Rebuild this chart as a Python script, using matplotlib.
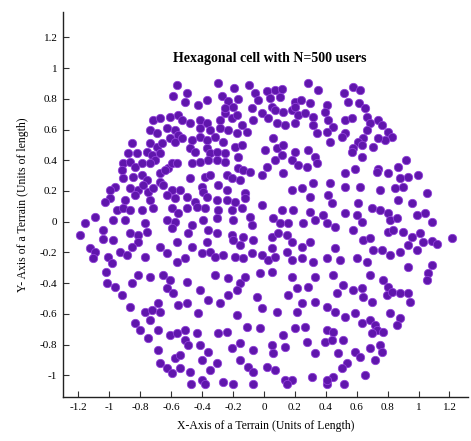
import matplotlib
matplotlib.use("Agg")
import matplotlib.pyplot as plt
from matplotlib.ticker import FuncFormatter

# user positions, (x, y) in units of length
users = [
    # top-left edge
    (-0.561, 0.890), (-0.496, 0.840), (-0.591, 0.819), (-0.511, 0.782),
    (-0.716, 0.663), (-0.673, 0.674), (-0.608, 0.685), (-0.554, 0.695), (-0.532, 0.663),
    (-0.479, 0.641), (-0.414, 0.663), (-0.371, 0.641), (-0.285, 0.663), (-0.252, 0.706),
    (-0.209, 0.674), (-0.177, 0.695), (-0.144, 0.630), (-0.069, 0.663),
    (-0.737, 0.598), (-0.694, 0.576), (-0.629, 0.609), (-0.576, 0.598), (-0.554, 0.565),
    (-0.414, 0.609), (-0.349, 0.598), (-0.285, 0.609), (-0.231, 0.598), (-0.177, 0.576),
    (-0.112, 0.587),
    (-0.856, 0.511), (-0.737, 0.511), (-0.694, 0.489), (-0.662, 0.511), (-0.608, 0.543),
    (-0.576, 0.522), (-0.532, 0.543), (-0.468, 0.533), (-0.414, 0.554), (-0.371, 0.533),
    (-0.317, 0.554), (-0.263, 0.522), (-0.188, 0.489), (-0.144, 0.500),
    (-0.877, 0.446), (-0.824, 0.446), (-0.759, 0.457), (-0.726, 0.435), (-0.705, 0.402),
    (-0.673, 0.446), (-0.479, 0.478), (-0.446, 0.457), (-0.371, 0.478), (-0.349, 0.446),
    (-0.306, 0.457), (-0.252, 0.446), (-0.166, 0.424),
    (-0.910, 0.380), (-0.867, 0.391), (-0.834, 0.359), (-0.791, 0.380), (-0.737, 0.380),
    (-0.619, 0.348), (-0.597, 0.380), (-0.565, 0.380), (-0.468, 0.380), (-0.414, 0.391),
    (-0.360, 0.402), (-0.306, 0.402), (-0.252, 0.391), (-0.166, 0.348), (-0.134, 0.337),
    (-0.091, 0.326),
    (-0.921, 0.337), (-0.910, 0.283), (-0.845, 0.294), (-0.791, 0.304), (-0.759, 0.272),
    (-0.673, 0.315), (-0.640, 0.337), (-0.479, 0.283), (-0.382, 0.294), (-0.349, 0.304),
    (-0.241, 0.304), (-0.209, 0.283), (-0.155, 0.272),
    (-0.964, 0.228), (-0.867, 0.218), (-0.813, 0.207), (-0.780, 0.239), (-0.748, 0.196),
    (-0.716, 0.218), (-0.673, 0.261), (-0.651, 0.239), (-0.597, 0.207), (-0.543, 0.207),
    (-0.403, 0.228), (-0.392, 0.196), (-0.295, 0.239), (-0.241, 0.207), (-0.123, 0.185),
    (-0.996, 0.152), (-0.899, 0.142), (-0.834, 0.174), (-0.737, 0.142), (-0.629, 0.174),
    (-0.576, 0.152), (-0.500, 0.163), (-0.446, 0.131), (-0.371, 0.163), (-0.306, 0.142),
    (-0.241, 0.142), (-0.188, 0.131), (-0.123, 0.152),
    (-0.953, 0.076), (-0.910, 0.087), (-0.867, 0.076), (-0.791, 0.076), (-0.716, 0.087),
    (-0.597, 0.087), (-0.554, 0.055), (-0.500, 0.087), (-0.435, 0.098), (-0.382, 0.087),
    (-0.295, 0.076), (-0.209, 0.076), (-0.144, 0.087), (-0.091, 0.033),
    (-0.974, 0.011), (-0.899, 0.011), (-0.770, -0.010), (-0.629, 0.011), (-0.576, 0.000),
    (-0.468, -0.021), (-0.392, 0.011), (-0.306, 0.022), (-0.198, 0.011), (-0.080, -0.021),
    (-0.867, -0.076), (-0.813, -0.087), (-0.759, -0.065), (-0.597, -0.043), (-0.489, -0.076),
    (-0.360, -0.054), (-0.306, -0.076), (-0.209, -0.087), (-0.134, -0.097),
    # upper-middle band
    (-0.299, 0.901), (-0.192, 0.869), (-0.097, 0.890), (0.018, 0.853), (0.071, 0.858),
    (0.119, 0.862), (0.287, 0.901), (0.352, 0.858), (-0.371, 0.793), (-0.274, 0.819),
    (-0.230, 0.788), (-0.166, 0.797), (-0.058, 0.836), (-0.036, 0.793), (0.039, 0.803),
    (0.104, 0.814), (0.201, 0.782), (0.240, 0.793), (0.298, 0.771), (-0.424, 0.760),
    (-0.252, 0.738), (-0.198, 0.749), (-0.079, 0.738), (-0.015, 0.710), (0.050, 0.749),
    (0.071, 0.727), (0.125, 0.717), (0.179, 0.727), (0.201, 0.749), (0.222, 0.695),
    (0.265, 0.706), (0.319, 0.684), (0.028, 0.673), (0.082, 0.640), (0.136, 0.630),
    (0.201, 0.640), (0.319, 0.630), (0.341, 0.575), (0.007, 0.467), (0.061, 0.543),
    (0.082, 0.478), (0.125, 0.499), (0.201, 0.456), (0.287, 0.467), (0.330, 0.423),
    (0.018, 0.358), (0.071, 0.402), (0.115, 0.434), (0.179, 0.402), (0.222, 0.369),
    (0.276, 0.358), (0.341, 0.380),
    # upper-right band
    (0.517, 0.840), (0.578, 0.879), (0.621, 0.858), (0.545, 0.782), (0.616, 0.771),
    (0.405, 0.760), (0.653, 0.738), (0.394, 0.717), (0.416, 0.662), (0.524, 0.662),
    (0.567, 0.673), (0.664, 0.684), (0.685, 0.640), (0.739, 0.662), (0.761, 0.630),
    (0.804, 0.586), (0.826, 0.554), (0.782, 0.532), (0.739, 0.543), (0.664, 0.597),
    (0.642, 0.543), (0.610, 0.521), (0.632, 0.499), (0.707, 0.488), (0.578, 0.478),
    (0.567, 0.456), (0.632, 0.419), (0.448, 0.619), (0.405, 0.586), (0.524, 0.575),
    (0.502, 0.554), (0.427, 0.521), (0.920, 0.402), (0.869, 0.358), (0.739, 0.341),
    (0.588, 0.341),
    # middle-left edge
    (-0.996, 0.207), (-1.029, 0.131), (-1.093, 0.033), (-1.158, -0.011), (-1.190, -0.087),
    (-1.039, -0.054), (-0.975, -0.119), (-0.813, -0.130), (-0.856, -0.163), (-1.126, -0.173),
    (-1.093, -0.195), (-1.104, -0.239), (-1.007, -0.228), (-0.985, -0.271), (-0.932, -0.195),
    (-0.888, -0.217), (-0.770, -0.228), (-0.673, -0.163), (-0.565, -0.130), (-0.468, -0.163),
    (-0.565, -0.260), (-0.511, -0.239), (-0.630, -0.206), (-1.040, -0.110), (-1.020, -0.330),
    # centre band
    (-0.015, 0.304), (0.125, 0.315), (0.179, 0.207), (0.244, 0.218), (0.319, 0.250),
    (0.298, 0.163), (-0.015, 0.109), (0.061, 0.022), (0.115, 0.076), (0.190, 0.076),
    (0.104, -0.011), (0.158, -0.011), (0.255, -0.011), (0.298, 0.065), (0.330, 0.011),
    (-0.371, -0.130), (-0.198, -0.119), (-0.155, -0.152), (-0.069, -0.119), (0.050, -0.097),
    (0.093, -0.076), (0.147, -0.087), (0.179, -0.130), (0.050, -0.173), (0.244, -0.163),
    (0.298, -0.130), (-0.403, -0.206), (-0.349, -0.195), (-0.317, -0.228), (-0.263, -0.217),
    (-0.187, -0.228), (-0.133, -0.239), (-0.079, -0.206), (-0.015, -0.217), (0.028, -0.249),
    (0.071, -0.228), (0.147, -0.195), (0.179, -0.249), (0.244, -0.239), (0.319, -0.260),
    # middle-right band
    (0.524, 0.315), (0.729, 0.326), (0.804, 0.315), (0.879, 0.283), (0.933, 0.294),
    (0.998, 0.304), (0.427, 0.250), (0.524, 0.228), (0.621, 0.228), (0.750, 0.207),
    (0.847, 0.218), (0.901, 0.228), (1.052, 0.185), (0.416, 0.174), (0.437, 0.120),
    (0.610, 0.120), (0.696, 0.087), (0.750, 0.076), (0.869, 0.141), (0.955, 0.120),
    (1.041, 0.055), (0.384, 0.044), (0.524, 0.055), (0.599, 0.044), (0.632, 0.000),
    (0.804, 0.055), (0.815, 0.011), (0.858, 0.022), (0.987, 0.044), (1.084, 0.000),
    (0.405, -0.011), (0.459, -0.032), (0.578, -0.054), (0.804, -0.065), (0.836, -0.054),
    (0.901, -0.065), (0.955, -0.097), (1.009, -0.076), (1.030, -0.130), (1.084, -0.124),
    (1.117, -0.145), (1.214, -0.108), (0.459, -0.173), (0.642, -0.119), (0.685, -0.108),
    (0.707, -0.184), (0.761, -0.184), (0.815, -0.217), (0.879, -0.195), (0.933, -0.152),
    (0.987, -0.184), (0.405, -0.239), (0.491, -0.249), (0.599, -0.239), (0.664, -0.260),
    (0.933, -0.293), (1.084, -0.282),
    # lower-left band
    (-1.018, -0.402), (-0.964, -0.424), (-0.921, -0.478), (-0.856, -0.402), (-0.813, -0.348),
    (-0.738, -0.358), (-0.651, -0.348), (-0.608, -0.380), (-0.630, -0.434), (-0.587, -0.467),
    (-0.500, -0.391), (-0.867, -0.554), (-0.770, -0.586), (-0.727, -0.576), (-0.684, -0.532),
    (-0.673, -0.586), (-0.554, -0.543), (-0.500, -0.532), (-0.835, -0.663), (-0.802, -0.706),
    (-0.738, -0.641), (-0.684, -0.706), (-0.748, -0.760), (-0.608, -0.739), (-0.565, -0.728),
    (-0.511, -0.706), (-0.511, -0.771), (-0.490, -0.804), (-0.684, -0.836), (-0.576, -0.891),
    (-0.544, -0.869), (-0.673, -0.923), (-0.630, -0.956), (-0.597, -0.988), (-0.544, -0.956),
    (-0.479, -0.977),
    # lower-middle band
    (-0.317, -0.348), (-0.230, -0.369), (-0.155, -0.402), (-0.123, -0.358), (-0.026, -0.337),
    (0.050, -0.326), (0.179, -0.358), (0.212, -0.434), (0.287, -0.424), (0.330, -0.358),
    (-0.414, -0.445), (-0.360, -0.510), (-0.284, -0.532), (-0.230, -0.478), (-0.176, -0.445),
    (-0.047, -0.489), (-0.015, -0.565), (0.082, -0.586), (0.158, -0.478), (0.212, -0.586),
    (0.244, -0.532), (0.330, -0.521), (-0.424, -0.597), (-0.435, -0.728), (-0.295, -0.728),
    (-0.241, -0.717), (-0.176, -0.608), (-0.112, -0.684), (-0.026, -0.695), (0.125, -0.739),
    (0.201, -0.695), (0.265, -0.684), (-0.414, -0.804), (-0.360, -0.847), (-0.209, -0.825),
    (-0.155, -0.793), (-0.069, -0.836), (0.050, -0.804), (0.061, -0.858), (0.136, -0.815),
    (0.276, -0.782), (0.330, -0.858), (-0.403, -0.901), (-0.349, -0.967), (-0.306, -0.923),
    (-0.155, -0.901), (-0.101, -0.945), (-0.069, -0.977), (0.018, -0.945), (0.071, -0.967),
    (0.136, -1.032), (0.179, -1.032), (0.309, -1.010), (-0.403, -1.032), (-0.263, -1.043),
    (-0.470, -1.060), (-0.380, -1.060), (-0.200, -1.060), (-0.070, -1.060), (0.150, -1.060),
    (0.410, -1.060), (0.520, -1.060),
    # lower-right band
    (0.448, -0.348), (0.685, -0.348), (0.772, -0.380), (0.804, -0.424), (1.063, -0.337),
    (1.052, -0.380), (0.470, -0.467), (0.513, -0.413), (0.578, -0.445), (0.632, -0.434),
    (0.642, -0.489), (0.696, -0.521), (0.793, -0.478), (0.826, -0.456), (0.879, -0.467),
    (0.933, -0.467), (0.944, -0.521), (0.815, -0.597), (0.879, -0.630), (0.858, -0.673),
    (0.405, -0.554), (0.459, -0.586), (0.524, -0.619), (0.588, -0.597), (0.632, -0.663),
    (0.685, -0.641), (0.718, -0.673), (0.729, -0.706), (0.772, -0.717), (0.696, -0.728),
    (0.405, -0.706), (0.448, -0.717), (0.394, -0.782), (0.437, -0.771), (0.513, -0.771),
    (0.481, -0.858), (0.588, -0.847), (0.621, -0.880), (0.685, -0.825), (0.750, -0.804),
    (0.761, -0.847), (0.718, -0.901), (0.535, -0.923), (0.502, -0.956), (0.448, -1.010),
    (0.653, -0.999), (0.405, -1.032),
]
user_x = [p[0] for p in users]
user_y = [p[1] for p in users]

xtick_vals = [-1.2, -1.0, -0.8, -0.6, -0.4, -0.2, 0.0, 0.2, 0.4, 0.6, 0.8, 1.0, 1.2]
ytick_vals = [-1.0, -0.8, -0.6, -0.4, -0.2, 0.0, 0.2, 0.4, 0.6, 0.8, 1.0, 1.2]

plt.rcParams['font.family'] = ['Liberation Serif', 'DejaVu Serif']
plt.rcParams['axes.unicode_minus'] = False

fig = plt.figure(figsize=(4.71, 4.41), dpi=100)
ax = fig.add_axes([63 / 471, 44 / 441, 405 / 471, 385 / 441])

ax.scatter(user_x, user_y, s=36, c='#6016ac', edgecolors='#9040d8', linewidths=0.6, zorder=3)

ax.set_xlim(-1.30, 1.32)
ax.set_ylim(-1.142, 1.366)
ax.set_xticks(xtick_vals)
ax.set_yticks(ytick_vals)
fmt = FuncFormatter(lambda v, p: "%g" % round(v, 1))
ax.xaxis.set_major_formatter(fmt)
ax.yaxis.set_major_formatter(fmt)
ax.tick_params(direction='in', length=4, width=0.8, labelsize=8, pad=4, color='#333333')

for side in ['top', 'right']:
    ax.spines[side].set_visible(False)
for side in ['left', 'bottom']:
    ax.spines[side].set_linewidth(1.0)
    ax.spines[side].set_color('#222222')

ax.text(0.04, 1.06, "Hexagonal cell with N=500 users", ha='center', va='center',
        fontsize=10, fontweight='bold')
ax.set_xlabel("X-Axis of a Terrain (Units of Length)", fontsize=8.5, labelpad=6)
ax.set_ylabel("Y- Axis of a Terrain (Units of length)", fontsize=8.5, labelpad=8)

fig.savefig("out.png", dpi=100)
